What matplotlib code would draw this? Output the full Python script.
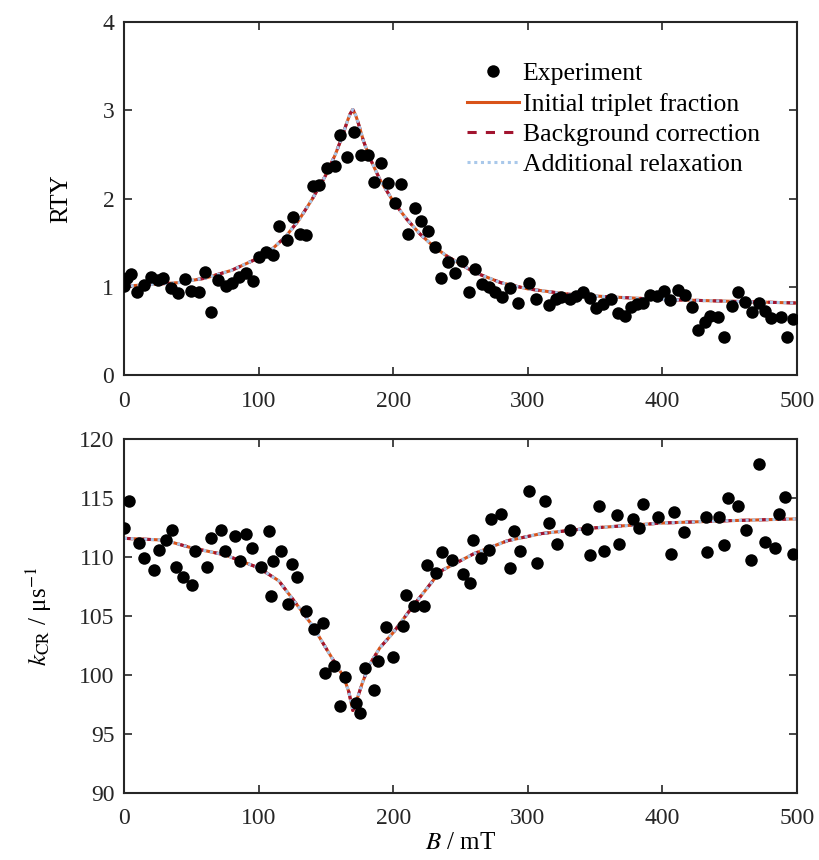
import numpy as np
import matplotlib.pyplot as plt

plt.rcParams['font.family'] = ['Liberation Serif', 'DejaVu Serif']
plt.rcParams['mathtext.fontset'] = 'stix'

# gornji panel: RTY
rty_B = [0, 2, 5, 10, 15, 20, 25.5, 29, 35, 40, 45, 50, 56, 60, 65, 70, 75.5, 80.5, 85.5, 90.5,
         95.5, 100.5, 105.5, 110.5, 115.5, 121, 125.5, 131, 135.5, 140.5, 145, 150.5, 157, 160.5,
         166, 171, 176, 181.5, 186, 191, 196, 201, 206, 211, 216, 221, 226, 231, 235.5, 240.5,
         246, 251, 256, 261, 266, 271.5, 275.5, 281, 286.5, 292.5, 301, 306, 316, 321, 325, 331,
         336, 341, 346, 351, 356, 361.5, 367, 372, 376.5, 381, 385.5, 390.5, 396, 401.5, 406,
         411.5, 417, 422, 426.5, 431.5, 435.5, 441.5, 446, 452, 456.5, 461.5, 466.5, 471.5,
         476.5, 481, 488, 492.5, 497]
rty_exp = [1.01, 1.10, 1.15, 0.95, 1.02, 1.12, 1.08, 1.10, 0.99, 0.93, 1.09, 0.96, 0.95, 1.17,
           0.72, 1.08, 1.01, 1.05, 1.12, 1.16, 1.07, 1.34, 1.40, 1.36, 1.69, 1.53, 1.79, 1.60,
           1.59, 2.14, 2.16, 2.35, 2.37, 2.72, 2.47, 2.75, 2.50, 2.49, 2.19, 2.41, 2.18, 1.95,
           2.17, 1.60, 1.89, 1.75, 1.63, 1.45, 1.10, 1.28, 1.16, 1.29, 0.95, 1.21, 1.03, 1.00,
           0.95, 0.89, 0.99, 0.82, 1.05, 0.87, 0.80, 0.86, 0.89, 0.86, 0.90, 0.95, 0.88, 0.76,
           0.81, 0.87, 0.71, 0.67, 0.77, 0.81, 0.82, 0.91, 0.90, 0.96, 0.85, 0.97, 0.91, 0.78,
           0.51, 0.61, 0.67, 0.66, 0.44, 0.79, 0.95, 0.83, 0.72, 0.82, 0.73, 0.65, 0.66, 0.44,
           0.64]

# fit krivulja (očitano sa slike)
fit_B_top = [0, 20, 40, 60, 80, 100, 110, 120, 130, 140, 150, 157, 162, 166, 168, 170, 172,
             174, 178, 183, 190, 200, 210, 220, 230, 240, 260, 280, 300, 330, 360, 400, 450, 500]
fit_rty = [1.01, 1.03, 1.05, 1.10, 1.19, 1.33, 1.43, 1.57, 1.76, 2.00, 2.27, 2.50, 2.70, 2.88,
           2.96, 3.01, 2.95, 2.86, 2.65, 2.45, 2.22, 1.97, 1.77, 1.60, 1.46, 1.35, 1.17, 1.05,
           0.98, 0.92, 0.89, 0.86, 0.84, 0.82]

# donji panel: k_CR
k_B = [0, 4, 11.5, 15, 22, 26, 31, 36, 39, 44, 50.5, 53, 61.5, 65, 72, 75, 82.5, 86, 90.5, 95,
       101.5, 107.5, 109, 111, 117, 121.5, 124.5, 128.5, 135, 141.5, 147.5, 149.5, 156, 160.5,
       164, 172.5, 175.5, 179, 186, 189, 194.5, 199.5, 207, 209.5, 215.5, 223, 225, 231.5, 236,
       243.5, 252, 257, 259, 265.5, 271.5, 273, 280, 287, 289.5, 294, 301, 306.5, 312.5, 316,
       322, 331.5, 344, 346, 353, 356.5, 366, 368, 378.5, 382.5, 385.5, 397, 406.5, 408.5, 416,
       432.5, 433, 442, 446, 449, 456.5, 462, 466, 471.5, 476.5, 484, 487, 491, 497]
k_exp = [112.5, 114.8, 111.2, 109.9, 108.9, 110.6, 111.5, 112.3, 109.2, 108.3, 107.6, 110.5,
         109.2, 111.6, 112.3, 110.5, 111.8, 109.7, 112.0, 110.8, 109.2, 112.2, 106.7, 109.7,
         110.5, 106.0, 109.4, 108.3, 105.4, 103.9, 104.4, 100.2, 100.8, 97.4, 99.8, 97.6, 96.8,
         100.6, 98.7, 101.2, 104.1, 101.5, 104.2, 106.8, 105.9, 105.9, 109.3, 108.7, 110.4,
         109.8, 108.6, 107.8, 111.5, 109.9, 110.6, 113.2, 113.7, 109.1, 112.2, 110.5, 115.6,
         109.5, 114.8, 112.9, 111.1, 112.3, 112.4, 110.2, 114.3, 110.5, 113.6, 111.1, 113.2,
         112.5, 114.5, 113.4, 110.3, 113.8, 112.1, 113.4, 110.4, 113.4, 111.0, 115.0, 114.3,
         112.3, 109.8, 117.9, 111.3, 110.8, 113.7, 115.1, 110.3]

fit_B_bot = [0, 30, 50, 75, 100, 115, 125, 140, 150, 158, 163, 167, 170, 173, 177, 182, 190,
             200, 215, 235, 260, 285, 310, 345, 400, 450, 500]
fit_k = [111.6, 111.45, 110.8, 110.2, 109.1, 108.0, 106.5, 104.2, 102.3, 100.8, 99.9, 98.6,
         97.0, 97.9, 99.3, 100.8, 102.3, 103.6, 105.9, 108.8, 110.3, 111.4, 112.0, 112.45,
         112.9, 113.1, 113.25]

c_orange = '#D95319'
c_red = '#A2142F'
c_blue = '#A9C8EA'

fig = plt.figure(figsize=(8.19, 8.6), dpi=100)
ax1 = fig.add_axes([0.1514, 0.5634, 0.8217, 0.411])
ax2 = fig.add_axes([0.1514, 0.0779, 0.8217, 0.4113])


def draw(ax, xb, yexp, xf, yf):
    ax.plot(xb, yexp, 'o', color='black', ms=9, mew=0, label='Experiment', zorder=5)
    ax.plot(xf, yf, '-', color=c_orange, lw=2.2, label='Initial triplet fraction')
    ax.plot(xf, yf, '--', color=c_red, lw=2.2, dashes=(3, 3), label='Background correction')
    ax.plot(xf, yf, ':', color=c_blue, lw=2.2, dashes=(1, 1.2), label='Additional relaxation')
    ax.set_xlim(0, 500)
    ax.set_xticks([0, 100, 200, 300, 400, 500])
    ax.tick_params(direction='in', top=True, right=True, length=6, width=1.2,
                   labelsize=17, colors='#262626', pad=7)
    ax.tick_params(axis='x', pad=11)
    for s in ax.spines.values():
        s.set_linewidth(1.5)
        s.set_color('#262626')


draw(ax1, rty_B, rty_exp, fit_B_top, fit_rty)
ax1.set_ylim(0, 4)
ax1.set_yticks([0, 1, 2, 3, 4])
ax1.set_ylabel('RTY', fontsize=18, labelpad=22)
ax1.legend(loc='upper left', bbox_to_anchor=(0.495, 0.915), frameon=False, fontsize=18.5,
           handlelength=2.0, handletextpad=0.15, labelspacing=0.28, borderaxespad=0)

draw(ax2, k_B, k_exp, fit_B_bot, fit_k)
ax2.set_ylim(90, 120)
ax2.set_yticks([90, 95, 100, 105, 110, 115, 120])
ax2.set_ylabel(r'$k_{\mathrm{CR}}$ / μs$^{-1}$', fontsize=18, labelpad=18)
ax2.set_xlabel(r'$B$ / mT', fontsize=18, labelpad=2)

plt.savefig('out.png', dpi=100)
